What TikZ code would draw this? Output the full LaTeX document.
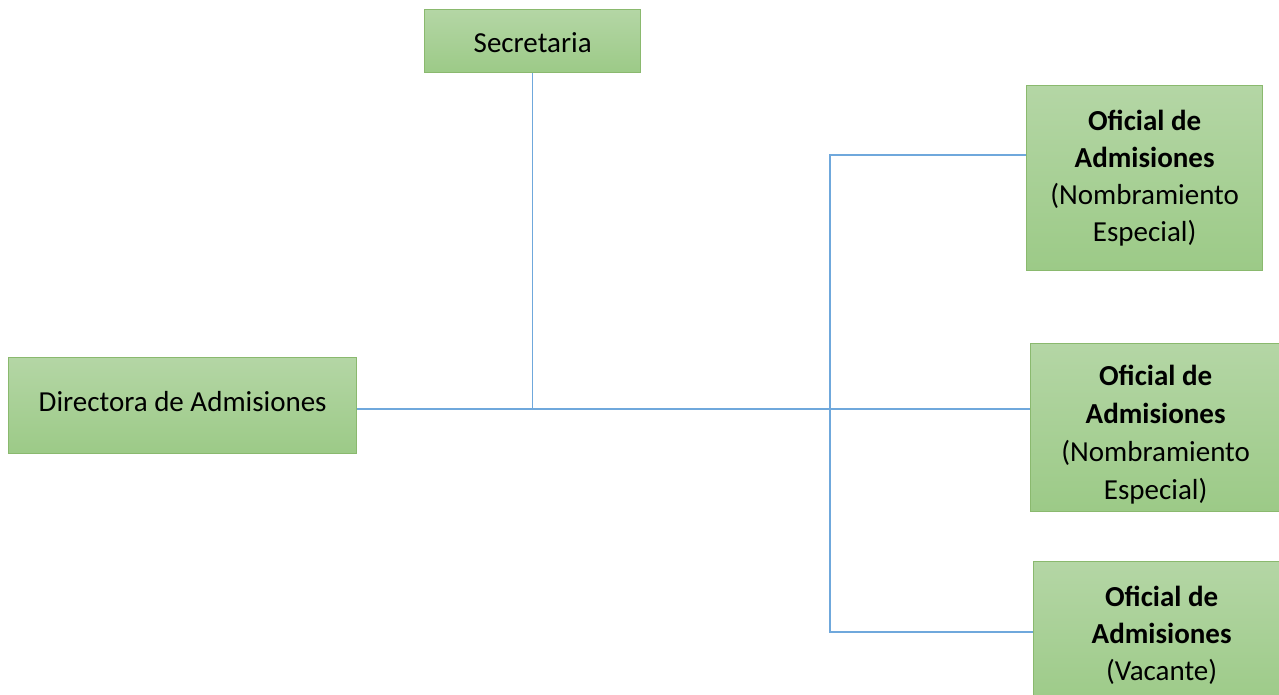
\documentclass[tikz,border=0pt]{standalone}
\usepackage{fontspec}
\setmainfont{Carlito}
\definecolor{gtop}{HTML}{B4D6A5}
\definecolor{gbot}{HTML}{9CCA87}
\definecolor{gline}{HTML}{8AB96E}
\definecolor{conn}{HTML}{6FA8DC}
\tikzset{
  box/.style={draw=gline, line width=1.3pt, top color=gtop, bottom color=gbot,
    inner sep=0pt, align=center, anchor=north west,
    font=\fontsize{29}{37}\selectfont},
  txt/.style={inner sep=0pt, align=center, font=\fontsize{29}{38}\selectfont},
  link/.style={draw=conn, line width=1.3pt}
}
\begin{document}
\begin{tikzpicture}[x=1pt,y=-1pt]
\useasboundingbox (0,0) rectangle (1279,694);
\clip (0,0) rectangle (1279,694);
\node[box, minimum width=216pt, minimum height=63pt] (sec) at (424,9) {};
\node[txt] (sect) at ([yshift=-1pt]sec.center) {Secretaria};
\node[box, minimum width=348pt, minimum height=96pt] (dir) at (8,357) {};
\node[txt] (dirt) at ([yshift=4pt]dir.center) {Directora de Admisiones};
\node[box, minimum width=236pt, minimum height=185pt] (o1) at (1026,85)
  {\textbf{Oficial de}\\\textbf{Admisiones}\\(Nombramiento\\Especial)};
\node[box, minimum width=250pt, minimum height=168pt] (o2) at (1030,343) {};
\node[txt] (o2t) at ([yshift=-7pt]o2.center)
  {\textbf{Oficial de}\\\textbf{Admisiones}\\(Nombramiento\\Especial)};
\node[box, minimum width=256pt, minimum height=148pt] (o3) at (1033,561)
  {\textbf{Oficial de}\\\textbf{Admisiones}\\(Vacante)};
\coordinate (j1) at (532,409);
\coordinate (t1) at (830,155);
\coordinate (t3) at (830,632);
\draw[link] (dir.east |- j1) -- (o2.west |- j1);
\draw[link] (sec.south) -- (sec.south |- j1);
\draw[link] (o1.west |- t1) -- (t1) -- (t3) -- (o3.west |- t3);
\end{tikzpicture}
\end{document}
